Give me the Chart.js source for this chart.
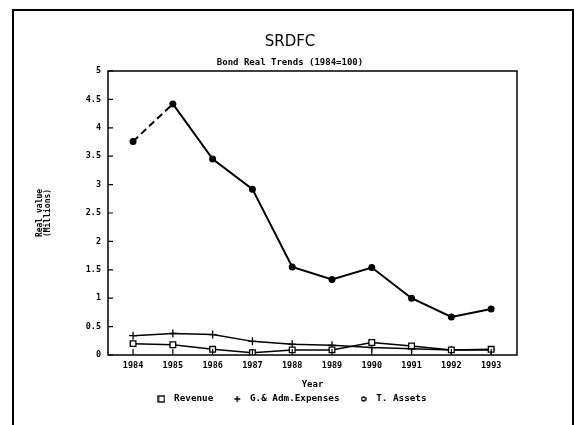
<!DOCTYPE html>
<html>
<head>
<meta charset="utf-8">
<script src="https://cdn.jsdelivr.net/npm/chart.js@4.4.0/dist/chart.umd.min.js"></script>
<style>
  html, body { margin: 0; padding: 0; background: #fff; }
</style>
</head>
<body>
<canvas id="chart" width="574" height="425"></canvas>
<script>
const years = [1984, 1985, 1986, 1987, 1988, 1989, 1990, 1991, 1992, 1993];
const revenue = [0.20, 0.18, 0.10, 0.04, 0.09, 0.09, 0.22, 0.16, 0.09, 0.10];
const gaExpenses = [0.34, 0.38, 0.36, 0.24, 0.19, 0.17, 0.13, 0.11, 0.09, 0.09];
const totalAssets = [3.76, 4.42, 3.45, 2.92, 1.55, 1.33, 1.54, 1.00, 0.67, 0.81];
const yTickLabels = ['0', '0.5', '1', '1.5', '2', '2.5', '3', '3.5', '4', '4.5', '5'];

const mono = 'DejaVu Sans Mono';
const pts = vals => years.map((yr, i) => ({x: yr, y: vals[i]}));

// small legend symbols, drawn once
function symbol(size, draw) {
    const c = document.createElement('canvas');
    c.width = size;
    c.height = size;
    const g = c.getContext('2d');
    g.strokeStyle = '#000';
    g.lineWidth = 1.4;
    draw(g, size);
    return c;
}
const legendSquare = symbol(8, (g, s) => g.strokeRect(1, 1, s - 2, s - 2));
const legendCross = symbol(8, (g, s) => {
    g.beginPath();
    g.moveTo(s / 2, 1); g.lineTo(s / 2, s - 1);
    g.moveTo(1, s / 2); g.lineTo(s - 1, s / 2);
    g.stroke();
});
const legendCircle = symbol(6, (g, s) => {
    g.beginPath();
    g.arc(s / 2, s / 2, 2, 0, Math.PI * 2);
    g.stroke();
});
const legendSymbols = [legendSquare, legendCross, legendCircle];

// page frame, plot box and inward tick marks
const framePlugin = {
    id: 'framePlugin',
    beforeDraw(chart) {
        const ctx = chart.ctx;
        ctx.save();
        ctx.fillStyle = '#fff';
        ctx.fillRect(0, 0, chart.width, chart.height);
        ctx.restore();
    },
    afterDraw(chart) {
        const {ctx, chartArea: a, scales} = chart;
        ctx.save();
        ctx.strokeStyle = '#000';
        ctx.lineWidth = 2;
        ctx.beginPath();
        ctx.moveTo(13, chart.height);
        ctx.lineTo(13, 10);
        ctx.lineTo(573, 10);
        ctx.lineTo(573, chart.height);
        ctx.stroke();

        ctx.lineWidth = 1.5;
        ctx.strokeRect(a.left, a.top, a.right - a.left, a.bottom - a.top);

        ctx.lineWidth = 1.2;
        ctx.beginPath();
        scales.y.ticks.forEach(t => {
            const py = scales.y.getPixelForValue(t.value);
            ctx.moveTo(a.left, py);
            ctx.lineTo(a.left + 5, py);
        });
        scales.x.ticks.forEach(t => {
            const px = scales.x.getPixelForValue(t.value);
            ctx.moveTo(px, a.bottom);
            ctx.lineTo(px, a.bottom - 6);
        });
        ctx.stroke();
        ctx.restore();
    }
};

new Chart(document.getElementById('chart').getContext('2d'), {
    type: 'line',
    data: {
        datasets: [
            {
                label: 'Revenue',
                data: pts(revenue),
                borderColor: '#000',
                borderWidth: 1.5,
                pointStyle: 'rect',
                pointRadius: 4,
                pointBackgroundColor: '#fff',
                pointBorderColor: '#000',
                pointBorderWidth: 1.3
            },
            {
                label: 'G.& Adm.Expenses',
                data: pts(gaExpenses),
                borderColor: '#000',
                borderWidth: 1.5,
                pointStyle: 'cross',
                pointRadius: 4,
                pointBorderColor: '#000',
                pointBorderWidth: 1.3
            },
            {
                label: 'T. Assets',
                data: pts(totalAssets),
                borderColor: '#000',
                borderWidth: 2,
                pointStyle: 'circle',
                pointRadius: 2.5,
                pointBackgroundColor: '#000',
                pointBorderColor: '#000',
                segment: {
                    borderDash: ctx => ctx.p0DataIndex === 0 ? [7, 4] : undefined
                }
            }
        ]
    },
    options: {
        responsive: false,
        animation: false,
        layout: {padding: {left: 13, right: 7, top: 10, bottom: 11.35}},
        plugins: {
            title: {
                display: true,
                text: 'SRDFC',
                color: '#000',
                font: {family: 'DejaVu Sans', size: 15, weight: 'normal'},
                padding: {top: 23, bottom: 0}
            },
            subtitle: {
                display: true,
                text: 'Bond Real Trends (1984=100)',
                color: '#000',
                font: {family: mono, size: 9, weight: 'bold'},
                padding: {top: 6.6, bottom: 2.6}
            },
            legend: {
                position: 'bottom',
                labels: {
                    usePointStyle: true,
                    pointStyleWidth: 16,
                    boxHeight: 8,
                    padding: 16,
                    color: '#000',
                    font: {family: mono, size: 9.3, weight: 'bold'},
                    generateLabels(chart) {
                        return chart.data.datasets.map((ds, i) => ({
                            text: ds.label,
                            pointStyle: legendSymbols[i],
                            fillStyle: '#fff',
                            strokeStyle: '#000',
                            lineWidth: 1.3,
                            datasetIndex: i
                        }));
                    }
                }
            },
            tooltip: {enabled: false}
        },
        scales: {
            x: {
                type: 'linear',
                min: 1983.37,
                max: 1993.65,
                afterBuildTicks: scale => { scale.ticks = years.map(v => ({value: v})); },
                afterFit: scale => { scale.height = 23.35; },
                grid: {display: false},
                border: {display: false},
                ticks: {
                    color: '#000',
                    padding: -2,
                    maxRotation: 0,
                    autoSkip: false,
                    font: {family: mono, size: 8.5, weight: 'bold'},
                    callback: v => String(v)
                },
                title: {
                    display: true,
                    text: 'Year',
                    color: '#000',
                    font: {family: mono, size: 9, weight: 'bold'},
                    padding: {top: 0, bottom: -12.2}
                }
            },
            y: {
                min: 0,
                max: 5,
                afterFit: scale => { scale.width = 95; },
                afterBuildTicks: scale => { scale.ticks = yTickLabels.map((t, i) => ({value: i * 0.5})); },
                grid: {display: false},
                border: {display: false},
                ticks: {
                    color: '#000',
                    padding: -1,
                    font: {family: mono, size: 8.5, weight: 'bold'},
                    callback: (v, i) => yTickLabels[i]
                },
                title: {
                    display: true,
                    text: ['Real value', '(Millions)'],
                    color: '#000',
                    font: {family: mono, size: 8, weight: 'bold', lineHeight: 1},
                    padding: {top: 23, bottom: 0}
                }
            },
            y2: {
                position: 'right',
                afterFit: scale => { scale.width = 50; },
                grid: {display: false},
                border: {display: false},
                ticks: {display: false}
            }
        }
    },
    plugins: [framePlugin]
});
</script>
</body>
</html>
